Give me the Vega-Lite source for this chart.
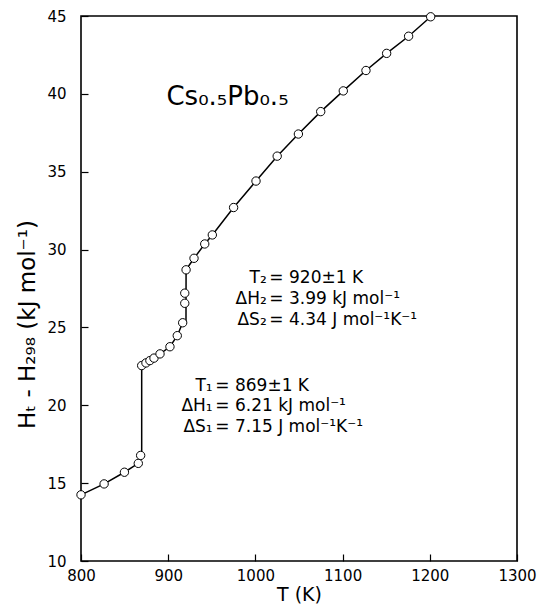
{
  "$schema": "https://vega.github.io/schema/vega-lite/v6.json",
  "width": 436,
  "height": 545,
  "autosize": {"type": "none"},
  "padding": {"left": 81, "top": 16, "right": 20, "bottom": 46},
  "background": "white",
  "config": {
    "view": {"stroke": "black", "strokeWidth": 1.6},
    "axis": {
      "domain": false, "zindex": 1,
      "ticks": true, "tickColor": "black", "tickWidth": 1.2, "tickSize": 7,
      "labelFont": "DejaVu Sans", "labelFontSize": 15, "labelColor": "black", "labelFlush": false,
      "titleFont": "DejaVu Sans", "titleFontWeight": "normal", "titleColor": "black",
      "grid": false
    },
    "text": {"font": "DejaVu Sans", "color": "black"}
  },
  "datasets": {
    "obs": [
      {"i": 0, "T": 800, "H": 14.25, "l": 1, "p": 1},
      {"i": 1, "T": 826.5, "H": 14.95, "l": 1, "p": 1},
      {"i": 2, "T": 849.8, "H": 15.7, "l": 1, "p": 1},
      {"i": 3, "T": 865.7, "H": 16.27, "l": 1, "p": 1},
      {"i": 4, "T": 868.4, "H": 16.78, "l": 1, "p": 1},
      {"i": 5, "T": 869.6, "H": 16.9, "l": 1, "p": 0},
      {"i": 6, "T": 869.6, "H": 22.55, "l": 1, "p": 1},
      {"i": 7, "T": 874.5, "H": 22.72, "l": 1, "p": 1},
      {"i": 8, "T": 879, "H": 22.87, "l": 1, "p": 1},
      {"i": 9, "T": 883.7, "H": 23.03, "l": 1, "p": 1},
      {"i": 10, "T": 890.6, "H": 23.3, "l": 1, "p": 1},
      {"i": 11, "T": 902, "H": 23.76, "l": 1, "p": 1},
      {"i": 12, "T": 910.4, "H": 24.47, "l": 1, "p": 1},
      {"i": 13, "T": 916.6, "H": 25.3, "l": 1, "p": 1},
      {"i": 14, "T": 920.4, "H": 25.3, "l": 1, "p": 0},
      {"i": 15, "T": 919, "H": 26.55, "l": 0, "p": 1},
      {"i": 16, "T": 919, "H": 27.2, "l": 0, "p": 1},
      {"i": 17, "T": 920.5, "H": 28.7, "l": 1, "p": 1},
      {"i": 18, "T": 929.6, "H": 29.44, "l": 1, "p": 1},
      {"i": 19, "T": 941.9, "H": 30.36, "l": 1, "p": 1},
      {"i": 20, "T": 950.6, "H": 30.94, "l": 1, "p": 1},
      {"i": 21, "T": 975, "H": 32.7, "l": 1, "p": 1},
      {"i": 22, "T": 1000.7, "H": 34.4, "l": 1, "p": 1},
      {"i": 23, "T": 1025, "H": 36.0, "l": 1, "p": 1},
      {"i": 24, "T": 1049.3, "H": 37.42, "l": 1, "p": 1},
      {"i": 25, "T": 1074.9, "H": 38.86, "l": 1, "p": 1},
      {"i": 26, "T": 1100.8, "H": 40.19, "l": 1, "p": 1},
      {"i": 27, "T": 1126.8, "H": 41.5, "l": 1, "p": 1},
      {"i": 28, "T": 1150.5, "H": 42.6, "l": 1, "p": 1},
      {"i": 29, "T": 1175.7, "H": 43.7, "l": 1, "p": 1},
      {"i": 30, "T": 1201, "H": 44.95, "l": 1, "p": 1}
    ],
    "lhs": [
      {"T": 1013, "H": 28.18, "t": "T₂"},
      {"T": 1013, "H": 26.83, "t": "ΔH₂"},
      {"T": 1013, "H": 25.48, "t": "ΔS₂"},
      {"T": 951, "H": 21.24, "t": "T₁"},
      {"T": 951, "H": 19.95, "t": "ΔH₁"},
      {"T": 951, "H": 18.61, "t": "ΔS₁"}
    ],
    "rhs": [
      {"T": 1016, "H": 28.18, "t": "=  920±1  K"},
      {"T": 1016, "H": 26.83, "t": "=  3.99  kJ mol⁻¹"},
      {"T": 1016, "H": 25.48, "t": "=  4.34  J mol⁻¹K⁻¹"},
      {"T": 954, "H": 21.24, "t": "=  869±1  K"},
      {"T": 954, "H": 19.95, "t": "=  6.21  kJ mol⁻¹"},
      {"T": 954, "H": 18.61, "t": "=  7.15  J mol⁻¹K⁻¹"}
    ],
    "lab": [
      {"T": 898, "H": 39.8, "t": "Cs₀.₅Pb₀.₅"}
    ]
  },
  "layer": [
    {
      "data": {"name": "obs"},
      "transform": [{"filter": "datum.l == 1"}],
      "mark": {"type": "line", "color": "black", "strokeWidth": 1.5},
      "encoding": {
        "x": {"field": "T", "type": "quantitative",
              "scale": {"domain": [800, 1300], "nice": false},
              "axis": {"values": [800, 900, 1000, 1100, 1200, 1300], "format": "d", "title": "T (K)", "titleFontSize": 19, "offset": -7, "labelPadding": 7, "titlePadding": 2}},
        "y": {"field": "H", "type": "quantitative",
              "scale": {"domain": [10, 45], "nice": false, "zero": false},
              "axis": {"values": [10, 15, 20, 25, 30, 35, 40, 45], "format": "d", "title": "Hₜ - H₂₉₈ (kJ mol⁻¹)", "titleFontSize": 23, "titleY": 308, "offset": -7, "labelPadding": 15, "titlePadding": 7}},
        "order": {"field": "i", "type": "quantitative"}
      }
    },
    {
      "data": {"name": "obs"},
      "transform": [{"filter": "datum.p == 1"}],
      "mark": {"type": "point", "shape": "circle", "filled": true, "fill": "white", "stroke": "black", "strokeWidth": 1, "size": 70, "opacity": 1},
      "encoding": {
        "x": {"field": "T", "type": "quantitative"},
        "y": {"field": "H", "type": "quantitative"}
      }
    },
    {
      "data": {"name": "lhs"},
      "mark": {"type": "text", "align": "right", "baseline": "middle", "fontSize": 17},
      "encoding": {
        "x": {"field": "T", "type": "quantitative"},
        "y": {"field": "H", "type": "quantitative"},
        "text": {"field": "t"}
      }
    },
    {
      "data": {"name": "rhs"},
      "mark": {"type": "text", "align": "left", "baseline": "middle", "fontSize": 17},
      "encoding": {
        "x": {"field": "T", "type": "quantitative"},
        "y": {"field": "H", "type": "quantitative"},
        "text": {"field": "t"}
      }
    },
    {
      "data": {"name": "lab"},
      "mark": {"type": "text", "align": "left", "baseline": "middle", "fontSize": 26},
      "encoding": {
        "x": {"field": "T", "type": "quantitative"},
        "y": {"field": "H", "type": "quantitative"},
        "text": {"field": "t"}
      }
    }
  ]
}
